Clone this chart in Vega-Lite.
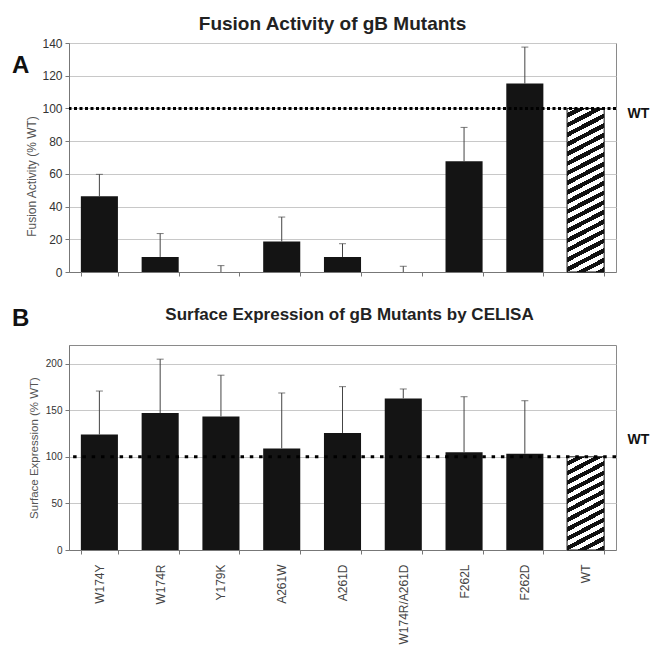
{
  "$schema": "https://vega.github.io/schema/vega-lite/v6.json",
  "background": "white",
  "padding": {"left": 11, "top": 14, "right": 0, "bottom": 0},
  "spacing": 26,
  "config": {
    "font": "Liberation Sans",
    "view": {"stroke": "#8a8a8a", "strokeWidth": 1},
    "axis": {"domainColor": "#777", "tickColor": "#777", "gridColor": "#c8c8c8", "labelColor": "#333", "titleColor": "#555", "titleFontWeight": "normal", "tickSize": 4, "labelFont": "Liberation Sans", "titleFont": "Liberation Sans", "labelOverlap": false},
    "title": {"font": "Liberation Sans", "fontWeight": "bold", "color": "#222"}
  },
  "datasets": {
    "fusion": [
      {"mutant": "W174Y", "value": 46.3, "upper": 59.7},
      {"mutant": "W174R", "value": 9.2, "upper": 23.5},
      {"mutant": "Y179K", "value": 0, "upper": 3.9},
      {"mutant": "A261W", "value": 18.6, "upper": 33.6},
      {"mutant": "A261D", "value": 9.2, "upper": 17.3},
      {"mutant": "W174R/A261D", "value": 0, "upper": 3.5},
      {"mutant": "F262L", "value": 67.7, "upper": 88.4},
      {"mutant": "F262D", "value": 115.2, "upper": 137.5},
      {"mutant": "WT", "value": 100, "upper": null}
    ],
    "surface": [
      {"mutant": "W174Y", "value": 123.9, "upper": 170.6},
      {"mutant": "W174R", "value": 146.9, "upper": 204.8},
      {"mutant": "Y179K", "value": 143.3, "upper": 187.6},
      {"mutant": "A261W", "value": 109, "upper": 168.5},
      {"mutant": "A261D", "value": 125.6, "upper": 175.3},
      {"mutant": "W174R/A261D", "value": 162.7, "upper": 172.8},
      {"mutant": "F262L", "value": 105, "upper": 164.5},
      {"mutant": "F262D", "value": 103.3, "upper": 160.2},
      {"mutant": "WT", "value": 100, "upper": null}
    ]
  },
  "vconcat": [
    {
      "width": 547,
      "height": 229,
      "title": {"text": "Fusion Activity of gB Mutants", "fontSize": 19, "offset": 3, "dx": -10},
      "data": {"name": "fusion"},
      "layer": [
        {
          "transform": [{"filter": "datum.mutant !== 'WT'"}],
          "mark": {"type": "bar", "color": "#141414"},
          "encoding": {
            "x": {"field": "mutant", "type": "nominal", "sort": null,
                  "scale": {"domain": ["W174Y","W174R","Y179K","A261W","A261D","W174R/A261D","F262L","F262D","WT"], "paddingInner": 0.39, "paddingOuter": 0.195},
                  "axis": {"labels": false, "title": null, "tickBand": "extent", "grid": false}},
            "y": {"field": "value", "type": "quantitative",
                  "scale": {"domain": [0, 140], "nice": false},
                  "axis": {"values": [0,20,40,60,80,100,120,140], "tickCount": 8, "title": "Fusion Activity (% WT)", "titleFontSize": 12, "labelFontSize": 12, "titleY": 133, "titlePadding": 3, "labelPadding": 3, "grid": true, "labelOverlap": false}}
          }
        },
        {
          "transform": [{"filter": "datum.mutant === 'WT'"}],
          "mark": {"type": "bar", "stroke": "#111", "strokeWidth": 1,
            "fill": {"gradient": "linear", "x1": 0, "y1": 0, "x2": 0.1294, "y2": 1.102, "stops": [
              {"offset":0,"color":"#fff"},{"offset":0.0263,"color":"#fff"},{"offset":0.0263,"color":"#111"},{"offset":0.0526,"color":"#111"},
              {"offset":0.0526,"color":"#fff"},{"offset":0.0789,"color":"#fff"},{"offset":0.0789,"color":"#111"},{"offset":0.1053,"color":"#111"},
              {"offset":0.1053,"color":"#fff"},{"offset":0.1316,"color":"#fff"},{"offset":0.1316,"color":"#111"},{"offset":0.1579,"color":"#111"},
              {"offset":0.1579,"color":"#fff"},{"offset":0.1842,"color":"#fff"},{"offset":0.1842,"color":"#111"},{"offset":0.2105,"color":"#111"},
              {"offset":0.2105,"color":"#fff"},{"offset":0.2368,"color":"#fff"},{"offset":0.2368,"color":"#111"},{"offset":0.2632,"color":"#111"},
              {"offset":0.2632,"color":"#fff"},{"offset":0.2895,"color":"#fff"},{"offset":0.2895,"color":"#111"},{"offset":0.3158,"color":"#111"},
              {"offset":0.3158,"color":"#fff"},{"offset":0.3421,"color":"#fff"},{"offset":0.3421,"color":"#111"},{"offset":0.3684,"color":"#111"},
              {"offset":0.3684,"color":"#fff"},{"offset":0.3947,"color":"#fff"},{"offset":0.3947,"color":"#111"},{"offset":0.4211,"color":"#111"},
              {"offset":0.4211,"color":"#fff"},{"offset":0.4474,"color":"#fff"},{"offset":0.4474,"color":"#111"},{"offset":0.4737,"color":"#111"},
              {"offset":0.4737,"color":"#fff"},{"offset":0.5,"color":"#fff"},{"offset":0.5,"color":"#111"},{"offset":0.5263,"color":"#111"},
              {"offset":0.5263,"color":"#fff"},{"offset":0.5526,"color":"#fff"},{"offset":0.5526,"color":"#111"},{"offset":0.5789,"color":"#111"},
              {"offset":0.5789,"color":"#fff"},{"offset":0.6053,"color":"#fff"},{"offset":0.6053,"color":"#111"},{"offset":0.6316,"color":"#111"},
              {"offset":0.6316,"color":"#fff"},{"offset":0.6579,"color":"#fff"},{"offset":0.6579,"color":"#111"},{"offset":0.6842,"color":"#111"},
              {"offset":0.6842,"color":"#fff"},{"offset":0.7105,"color":"#fff"},{"offset":0.7105,"color":"#111"},{"offset":0.7368,"color":"#111"},
              {"offset":0.7368,"color":"#fff"},{"offset":0.7632,"color":"#fff"},{"offset":0.7632,"color":"#111"},{"offset":0.7895,"color":"#111"},
              {"offset":0.7895,"color":"#fff"},{"offset":0.8158,"color":"#fff"},{"offset":0.8158,"color":"#111"},{"offset":0.8421,"color":"#111"},
              {"offset":0.8421,"color":"#fff"},{"offset":0.8684,"color":"#fff"},{"offset":0.8684,"color":"#111"},{"offset":0.8947,"color":"#111"},
              {"offset":0.8947,"color":"#fff"},{"offset":0.9211,"color":"#fff"},{"offset":0.9211,"color":"#111"},{"offset":0.9474,"color":"#111"},
              {"offset":0.9474,"color":"#fff"},{"offset":0.9737,"color":"#fff"},{"offset":0.9737,"color":"#111"},{"offset":1,"color":"#111"}
            ]}},
          "encoding": {
            "x": {"field": "mutant", "type": "nominal", "sort": null},
            "y": {"field": "value", "type": "quantitative", "scale": {"domain": [0, 140], "nice": false},
                  "axis": {"values": [0,20,40,60,80,100,120,140], "tickCount": 8, "title": "Fusion Activity (% WT)", "titleFontSize": 12, "labelFontSize": 12, "titleY": 133, "titlePadding": 3, "labelPadding": 3, "grid": true, "labelOverlap": false}}
          }
        },
        {
          "transform": [{"filter": "isValid(datum.upper)"}],
          "mark": {"type": "rule", "color": "#444", "strokeWidth": 1},
          "encoding": {
            "x": {"field": "mutant", "type": "nominal", "sort": null},
            "y": {"field": "value", "type": "quantitative", "scale": {"domain": [0, 140], "nice": false},
                  "axis": {"values": [0,20,40,60,80,100,120,140], "tickCount": 8, "title": "Fusion Activity (% WT)", "titleFontSize": 12, "labelFontSize": 12, "titleY": 133, "titlePadding": 3, "labelPadding": 3, "grid": true, "labelOverlap": false}},
            "y2": {"field": "upper"}
          }
        },
        {
          "transform": [{"filter": "isValid(datum.upper)"}],
          "mark": {"type": "tick", "orient": "horizontal", "color": "#444", "size": 7, "thickness": 1},
          "encoding": {
            "x": {"field": "mutant", "type": "nominal", "sort": null},
            "y": {"field": "upper", "type": "quantitative", "scale": {"domain": [0, 140], "nice": false},
                  "axis": {"values": [0,20,40,60,80,100,120,140], "tickCount": 8, "title": "Fusion Activity (% WT)", "titleFontSize": 12, "labelFontSize": 12, "titleY": 133, "titlePadding": 3, "labelPadding": 3, "grid": true, "labelOverlap": false}}
          }
        },
        {
          "data": {"values": [{}]},
          "mark": {"type": "rule", "color": "#000", "strokeWidth": 3, "strokeDash": [3, 2.5]},
          "encoding": {"y": {"datum": 100, "type": "quantitative", "scale": {"domain": [0, 140], "nice": false},
                  "axis": {"values": [0,20,40,60,80,100,120,140], "tickCount": 8, "title": "Fusion Activity (% WT)", "titleFontSize": 12, "labelFontSize": 12, "titleY": 133, "titlePadding": 3, "labelPadding": 3, "grid": true, "labelOverlap": false}}}
        },
        {
          "data": {"values": [{}]},
          "mark": {"type": "text", "text": "WT", "fontSize": 14, "fontWeight": "bold", "align": "left", "baseline": "middle", "dx": 42, "dy": 6, "color": "#111"},
          "encoding": {"x": {"datum": "WT", "type": "nominal"}, "y": {"datum": 100, "type": "quantitative", "scale": {"domain": [0, 140], "nice": false},
                  "axis": {"values": [0,20,40,60,80,100,120,140], "tickCount": 8, "title": "Fusion Activity (% WT)", "titleFontSize": 12, "labelFontSize": 12, "titleY": 133, "titlePadding": 3, "labelPadding": 3, "grid": true, "labelOverlap": false}}}
        },
        {
          "data": {"values": [{}]},
          "mark": {"type": "text", "text": "A", "fontSize": 24, "fontWeight": "bold", "align": "left", "baseline": "middle", "dx": -87.4, "color": "#111"},
          "encoding": {"x": {"datum": "W174Y", "type": "nominal"}, "y": {"datum": 126, "type": "quantitative", "scale": {"domain": [0, 140], "nice": false},
                  "axis": {"values": [0,20,40,60,80,100,120,140], "tickCount": 8, "title": "Fusion Activity (% WT)", "titleFontSize": 12, "labelFontSize": 12, "titleY": 133, "titlePadding": 3, "labelPadding": 3, "grid": true, "labelOverlap": false}}}
        }
      ]
    },
    {
      "width": 547,
      "height": 205,
      "title": {"text": "Surface Expression of gB Mutants by CELISA", "fontSize": 17, "offset": -17, "dx": 7},
      "data": {"name": "surface"},
      "layer": [
        {
          "transform": [{"filter": "datum.mutant !== 'WT'"}],
          "mark": {"type": "bar", "color": "#141414"},
          "encoding": {
            "x": {"field": "mutant", "type": "nominal", "sort": null,
                  "scale": {"domain": ["W174Y","W174R","Y179K","A261W","A261D","W174R/A261D","F262L","F262D","WT"], "paddingInner": 0.39, "paddingOuter": 0.195},
                  "axis": {"title": null, "tickBand": "extent", "grid": false, "labelAngle": -90, "labelFontSize": 12, "labelPadding": 10, "labelColor": "#444"}},
            "y": {"field": "value", "type": "quantitative",
                  "scale": {"domain": [0, 220], "nice": false},
                  "axis": {"values": [0,50,100,150,200], "title": "Surface Expression (% WT)", "titleFontSize": 11.5, "labelFontSize": 10, "titlePadding": 6, "labelPadding": 3, "grid": true}}
          }
        },
        {
          "transform": [{"filter": "datum.mutant === 'WT'"}],
          "mark": {"type": "bar", "stroke": "#111", "strokeWidth": 1,
            "fill": {"gradient": "linear", "x1": 0, "y1": 0, "x2": 0.2407, "y2": 1.158, "stops": [
              {"offset":0,"color":"#fff"},{"offset":0.0417,"color":"#fff"},{"offset":0.0417,"color":"#111"},{"offset":0.0833,"color":"#111"},
              {"offset":0.0833,"color":"#fff"},{"offset":0.125,"color":"#fff"},{"offset":0.125,"color":"#111"},{"offset":0.1667,"color":"#111"},
              {"offset":0.1667,"color":"#fff"},{"offset":0.2083,"color":"#fff"},{"offset":0.2083,"color":"#111"},{"offset":0.25,"color":"#111"},
              {"offset":0.25,"color":"#fff"},{"offset":0.2917,"color":"#fff"},{"offset":0.2917,"color":"#111"},{"offset":0.3333,"color":"#111"},
              {"offset":0.3333,"color":"#fff"},{"offset":0.375,"color":"#fff"},{"offset":0.375,"color":"#111"},{"offset":0.4167,"color":"#111"},
              {"offset":0.4167,"color":"#fff"},{"offset":0.4583,"color":"#fff"},{"offset":0.4583,"color":"#111"},{"offset":0.5,"color":"#111"},
              {"offset":0.5,"color":"#fff"},{"offset":0.5417,"color":"#fff"},{"offset":0.5417,"color":"#111"},{"offset":0.5833,"color":"#111"},
              {"offset":0.5833,"color":"#fff"},{"offset":0.625,"color":"#fff"},{"offset":0.625,"color":"#111"},{"offset":0.6667,"color":"#111"},
              {"offset":0.6667,"color":"#fff"},{"offset":0.7083,"color":"#fff"},{"offset":0.7083,"color":"#111"},{"offset":0.75,"color":"#111"},
              {"offset":0.75,"color":"#fff"},{"offset":0.7917,"color":"#fff"},{"offset":0.7917,"color":"#111"},{"offset":0.8333,"color":"#111"},
              {"offset":0.8333,"color":"#fff"},{"offset":0.875,"color":"#fff"},{"offset":0.875,"color":"#111"},{"offset":0.9167,"color":"#111"},
              {"offset":0.9167,"color":"#fff"},{"offset":0.9583,"color":"#fff"},{"offset":0.9583,"color":"#111"},{"offset":1,"color":"#111"}
            ]}},
          "encoding": {
            "x": {"field": "mutant", "type": "nominal", "sort": null},
            "y": {"field": "value", "type": "quantitative", "scale": {"domain": [0, 220], "nice": false}}
          }
        },
        {
          "transform": [{"filter": "isValid(datum.upper)"}],
          "mark": {"type": "rule", "color": "#444", "strokeWidth": 1},
          "encoding": {
            "x": {"field": "mutant", "type": "nominal", "sort": null},
            "y": {"field": "value", "type": "quantitative", "scale": {"domain": [0, 220], "nice": false}},
            "y2": {"field": "upper"}
          }
        },
        {
          "transform": [{"filter": "isValid(datum.upper)"}],
          "mark": {"type": "tick", "orient": "horizontal", "color": "#444", "size": 7, "thickness": 1},
          "encoding": {
            "x": {"field": "mutant", "type": "nominal", "sort": null},
            "y": {"field": "upper", "type": "quantitative", "scale": {"domain": [0, 220], "nice": false}}
          }
        },
        {
          "data": {"values": [{}]},
          "mark": {"type": "rule", "color": "#000", "strokeWidth": 3, "strokeDash": [3.5, 5.8]},
          "encoding": {"y": {"datum": 100, "type": "quantitative", "scale": {"domain": [0, 220], "nice": false}}}
        },
        {
          "data": {"values": [{}]},
          "mark": {"type": "text", "text": "WT", "fontSize": 14, "fontWeight": "bold", "align": "left", "baseline": "middle", "dx": 42, "dy": -17, "color": "#111"},
          "encoding": {"x": {"datum": "WT", "type": "nominal"}, "y": {"datum": 100, "type": "quantitative", "scale": {"domain": [0, 220], "nice": false}}}
        },
        {
          "data": {"values": [{}]},
          "mark": {"type": "text", "text": "B", "fontSize": 24, "fontWeight": "bold", "align": "left", "baseline": "middle", "dx": -87.4, "color": "#111"},
          "encoding": {"x": {"datum": "W174Y", "type": "nominal"}, "y": {"datum": 248, "type": "quantitative", "scale": {"domain": [0, 220], "nice": false}}}
        }
      ]
    }
  ]
}
